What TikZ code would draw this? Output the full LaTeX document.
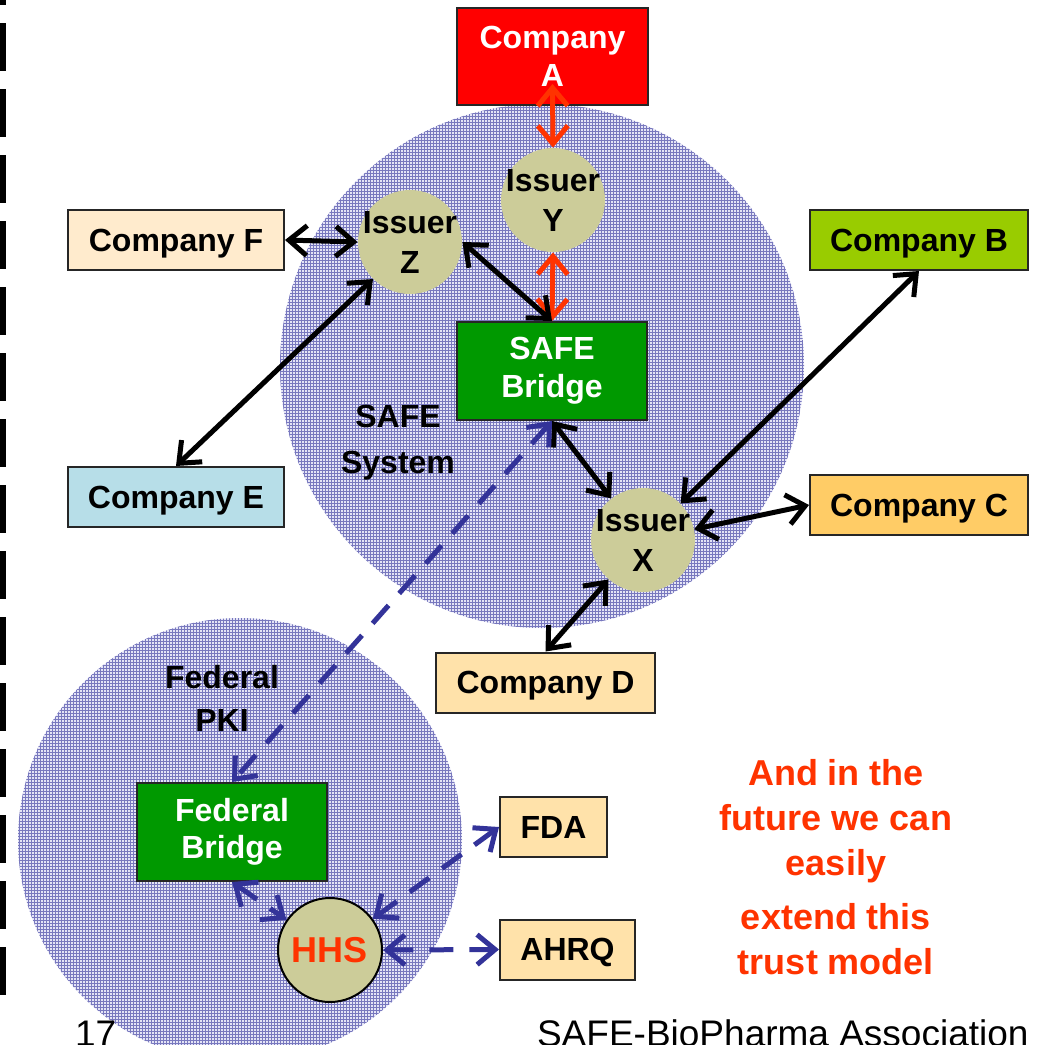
\documentclass[tikz,border=0pt]{standalone}
\usepackage{fontspec}
\setmainfont{Liberation Sans}
\usetikzlibrary{arrows.meta,patterns}
\definecolor{boxred}{RGB}{255, 0, 0}
\definecolor{bridgegreen}{RGB}{0, 153, 0}
\definecolor{issuerkhaki}{RGB}{204, 204, 153}
\definecolor{peach}{RGB}{255, 235, 205}
\definecolor{lime}{RGB}{153, 204, 0}
\definecolor{paleblue}{RGB}{183, 222, 232}
\definecolor{amber}{RGB}{255, 204, 102}
\definecolor{sand}{RGB}{255, 226, 170}
\definecolor{arrowred}{RGB}{255, 51, 0}
\definecolor{fedblue}{RGB}{51, 51, 153}
\definecolor{gridbase}{RGB}{228, 228, 246}
\definecolor{gridline}{RGB}{120, 120, 190}
\newcommand{\labelfont}{\bfseries\fontsize{16}{20}\selectfont}
\pgfdeclarepatternformonly{finegrid}{\pgfqpoint{-0.1pt}{-0.1pt}}{\pgfqpoint{1.6pt}{1.6pt}}{\pgfqpoint{1.5pt}{1.5pt}}{%
  \pgfsetlinewidth{0.3pt}%
  \pgfpathmoveto{\pgfqpoint{0pt}{0.75pt}}\pgfpathlineto{\pgfqpoint{1.5pt}{0.75pt}}%
  \pgfpathmoveto{\pgfqpoint{0.75pt}{0pt}}\pgfpathlineto{\pgfqpoint{0.75pt}{1.5pt}}%
  \pgfusepath{stroke}}

\begin{document}
\begin{tikzpicture}[x=0.5pt, y=-0.5pt,
    >={Straight Barb[length=9pt, width=15pt]},
    company/.style={draw=black!85, line width=1pt, minimum height=30pt,
      inner sep=0pt, text depth=0pt, font=\labelfont},
    issuer/.style={circle, fill=issuerkhaki, minimum size=52pt, inner sep=-2pt,
      align=center, font=\labelfont},
    bridge/.style={draw=black!85, line width=1pt, fill=bridgegreen, text=white,
      minimum width=95pt, minimum height=49pt, inner sep=0pt, align=center},
    trustzone/.style={fill=gridbase, postaction={pattern=finegrid, pattern color=gridline}},
    trustlink/.style={<->, line width=2.5pt},
    fedlink/.style={<->, line width=2.5pt, color=fedblue, dash pattern=on 12pt off 8pt}]

  \useasboundingbox (0,0) rectangle (1039,1045);
  \clip (0,0) rectangle (1039,1045);

  % ── Slide border ──────────────────────────────────────────────────────────
  \draw[line width=3pt, dash pattern=on 24pt off 9pt, dash phase=21.5pt] (3,0) -- (3,996);

  % ── Trust domains ─────────────────────────────────────────────────────────
  \path[trustzone] (542,366) circle (131pt);
  \path[trustzone] (240,840) circle (111pt);
  \node[font=\bfseries\fontsize{16}{23}\selectfont, align=center] (safesys) at (398,443)
    {SAFE\\System};
  \node[font=\bfseries\fontsize{16}{21.5}\selectfont, align=center] (fedpki) at (222,698)
    {Federal\\PKI};

  % ── SAFE members ──────────────────────────────────────────────────────────
  \node[company, fill=boxred, text=white, align=center, minimum width=95.5pt,
        minimum height=48.5pt, font=\bfseries\fontsize{16}{19}\selectfont]
    (compA) at (552.5,56.5) {Company\\A};
  \node[issuer] (issY) at (553,200) {Issuer\\Y};
  \node[issuer] (issZ) at (410,242) {Issuer\\Z};
  \node[issuer] (issX) at (643,540) {Issuer\\X};
  \node[bridge, font=\bfseries\fontsize{16}{19}\selectfont] (safeBr) at (552,371)
    {SAFE\\Bridge};
  \node[company, fill=peach, minimum width=108pt] (compF) at (176,240) {Company F};
  \node[company, fill=lime, minimum width=109pt] (compB) at (919,240) {Company B};
  \node[company, fill=paleblue, minimum width=108pt] (compE) at (176,497) {Company E};
  \node[company, fill=amber, minimum width=109pt] (compC) at (919,505) {Company C};
  \node[company, fill=sand, minimum width=109.5pt] (compD) at (545.5,682.5) {Company D};

  % ── Federal side ──────────────────────────────────────────────────────────
  \node[bridge, font=\bfseries\fontsize{16}{18.5}\selectfont] (fedBr) at (232,832)
    {Federal\\Bridge};
  \node[circle, draw=black, line width=1pt, fill=issuerkhaki, minimum size=52pt,
        inner sep=0pt, text=arrowred, font=\bfseries\fontsize{18}{20}\selectfont]
    (hhs) at (330,950) {HHS};
  \node[company, fill=sand, minimum width=53.5pt] (fda) at (553.5,827) {FDA};
  \node[company, fill=sand, minimum width=67.5pt] (ahrq) at (567.5,949.5) {AHRQ};

  % ── Cross certifications ──────────────────────────────────────────────────
  \draw[trustlink, color=arrowred] ([yshift=11pt]compA.south) -- (issY.north);
  \draw[trustlink, color=arrowred] (issY.south) -- (safeBr.north);
  \draw[trustlink] (compF.east) -- (issZ.west);
  \draw[trustlink] (issZ.east) -- (safeBr.north);
  \draw[trustlink] (issZ.225) -- (compE.north);
  \draw[trustlink] (safeBr.south) -- (issX);
  \draw[trustlink] (compB.south) -- (issX);
  \draw[trustlink] (issX) -- (compC.west);
  \draw[trustlink] (issX) -- (compD.north);

  \draw[fedlink] (safeBr.south) -- (fedBr.north);
  \draw[fedlink] (fedBr.south) -- (hhs);
  \draw[fedlink] (fda.west) -- (hhs);
  \draw[fedlink] (hhs.east) -- (ahrq.west);

  % ── Notes ─────────────────────────────────────────────────────────────────
  \node[text=arrowred, align=center, font=\bfseries\fontsize{18}{22.5}\selectfont]
    (future) at (836,867)
    {And in the\\future we can\\easily\\[4.5pt]extend this\\trust model};
  \node[anchor=base west, font=\fontsize{18.5}{22}\selectfont] (slideno) at (68,1046) {17};
  \node[anchor=base west, font=\fontsize{18.5}{22}\selectfont] (footer) at (530,1046)
    {SAFE-BioPharma Association};

\end{tikzpicture}
\end{document}
